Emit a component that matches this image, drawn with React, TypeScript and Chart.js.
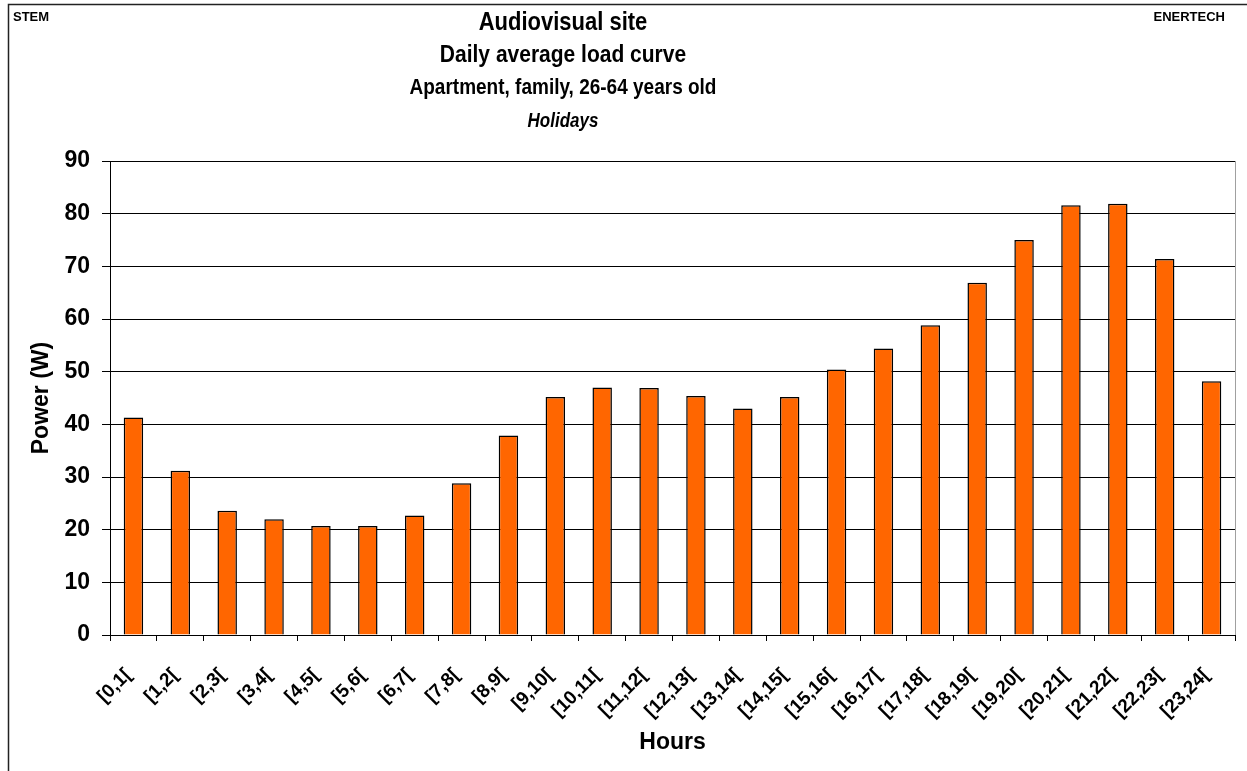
import { useEffect, useRef } from "react";
import { Chart, registerables } from "chart.js";

Chart.register(...registerables);

const hourLabels = [
  "[0,1[", "[1,2[", "[2,3[", "[3,4[", "[4,5[", "[5,6[", "[6,7[", "[7,8[",
  "[8,9[", "[9,10[", "[10,11[", "[11,12[", "[12,13[", "[13,14[", "[14,15[", "[15,16[",
  "[16,17[", "[17,18[", "[18,19[", "[19,20[", "[20,21[", "[21,22[", "[22,23[", "[23,24[",
];

const powerW = [
  41.3, 31.2, 23.6, 22.0, 20.7, 20.7, 22.7, 28.8,
  37.9, 45.2, 47.0, 46.9, 45.4, 43.0, 45.2, 50.4,
  54.4, 58.8, 66.9, 75.0, 81.6, 81.9, 71.4, 48.2,
];

const yMin = 0;
const yMax = 90;
const yStep = 10;

const titleMain = "Audiovisual site";
const titleSub1 = "Daily average load curve";
const titleSub2 = "Apartment, family, 26-64 years old";
const titleSub3 = "Holidays";
const cornerLeft = "STEM";
const cornerRight = "ENERTECH";
const yTitle = "Power (W)";
const xTitle = "Hours";

const FONT = '"Liberation Sans", Arial, Helvetica, sans-serif';

function condensedText(
  ctx: CanvasRenderingContext2D,
  text: string,
  font: string,
  cx: number,
  cy: number,
  sx: number
) {
  ctx.save();
  ctx.font = font;
  ctx.textAlign = "center";
  ctx.textBaseline = "middle";
  ctx.translate(cx, cy);
  ctx.scale(sx, 1);
  ctx.fillText(text, 0, 0);
  ctx.restore();
}

const decorPlugin = {
  id: "decor",
  afterDraw(chart: any) {
    const ctx = chart.ctx as CanvasRenderingContext2D;
    const area = chart.chartArea;
    const W = chart.width;
    const H = chart.height;
    ctx.save();
    // outer frame (extends past the viewport on right and bottom)
    ctx.strokeStyle = "#222";
    ctx.lineWidth = 1.5;
    ctx.beginPath();
    ctx.moveTo(8.5, H + 2);
    ctx.lineTo(8.5, 4.5);
    ctx.lineTo(W + 2, 4.5);
    ctx.stroke();

    // right border of plot area
    ctx.strokeStyle = "#a0a0a0";
    ctx.lineWidth = 1;
    ctx.beginPath();
    ctx.moveTo(Math.round(area.right) + 0.5, area.top);
    ctx.lineTo(Math.round(area.right) + 0.5, area.bottom);
    ctx.stroke();

    ctx.fillStyle = "#000";
    ctx.textBaseline = "middle";
    ctx.font = `bold 13px ${FONT}`;
    ctx.textAlign = "left";
    ctx.fillText(cornerLeft, 13, 17);
    ctx.textAlign = "right";
    ctx.fillText(cornerRight, 1225, 17);

    const cx = 563;
    condensedText(ctx, titleMain, `bold 26px ${FONT}`, cx, 23, 22 / 26);
    condensedText(ctx, titleSub1, `bold 24px ${FONT}`, cx, 55, 21 / 24);
    condensedText(ctx, titleSub2, `bold 22px ${FONT}`, cx, 88, 19 / 22);
    condensedText(ctx, titleSub3, `italic bold 20px ${FONT}`, cx, 121, 17 / 20);
    ctx.restore();
  },
};

export default function App() {
  const canvasRef = useRef<HTMLCanvasElement | null>(null);

  useEffect(() => {
    const canvas = canvasRef.current;
    if (!canvas) return;
    const chart = new Chart(canvas, {
      type: "bar",
      data: {
        labels: hourLabels,
        datasets: [
          {
            label: "Power",
            data: powerW,
            backgroundColor: "#FF6600",
            borderColor: "#000000",
            borderWidth: 1.5,
            categoryPercentage: 1,
            barPercentage: 0.415,
          },
        ],
      },
      options: {
        responsive: false,
        animation: false,
        devicePixelRatio: 1,
        layout: { padding: { top: 161, right: 12, left: 0, bottom: 0 } },
        plugins: {
          legend: { display: false },
          title: { display: false },
          tooltip: { enabled: false },
        },
        scales: {
          x: {
            offset: true,
            grid: {
              display: true,
              offset: true,
              drawOnChartArea: false,
              drawTicks: true,
              tickLength: 6,
              color: "#000",
              lineWidth: 1,
            },
            border: { display: true, color: "#000", width: 1 },
            ticks: {
              autoSkip: false,
              minRotation: 45,
              maxRotation: 45,
              padding: 23,
              labelOffset: -5,
              color: "#000",
              font: { family: FONT, size: 19, weight: "bold" },
            },
            title: {
              display: true,
              text: xTitle,
              color: "#000",
              font: { family: FONT, size: 23, weight: "bold" },
              padding: { top: 0, bottom: 15 },
            },
            afterFit(scale: any) {
              scale.height = 136;
              scale.paddingRight = 0;
              scale.paddingLeft = 0;
            },
          },
          y: {
            min: yMin,
            max: yMax,
            grid: {
              color: "#000",
              lineWidth: 1,
              drawTicks: true,
              tickLength: 8,
            },
            border: { display: true, color: "#000", width: 1 },
            ticks: {
              stepSize: yStep,
              padding: 12,
              color: "#000",
              font: { family: FONT, size: 23, weight: "bold" },
            },
            title: {
              display: true,
              text: yTitle,
              color: "#000",
              font: { family: FONT, size: 23, weight: "bold" },
              padding: { top: 28, bottom: 0 },
            },
            afterFit(scale: any) {
              scale.width = 110;
            },
          },
        },
      },
      plugins: [decorPlugin],
    });
    return () => chart.destroy();
  }, []);

  return (
    <canvas
      ref={canvasRef}
      width={1247}
      height={771}
      style={{ position: "absolute", left: 0, top: 0, width: 1247, height: 771, background: "#fff" }}
    />
  );
}
